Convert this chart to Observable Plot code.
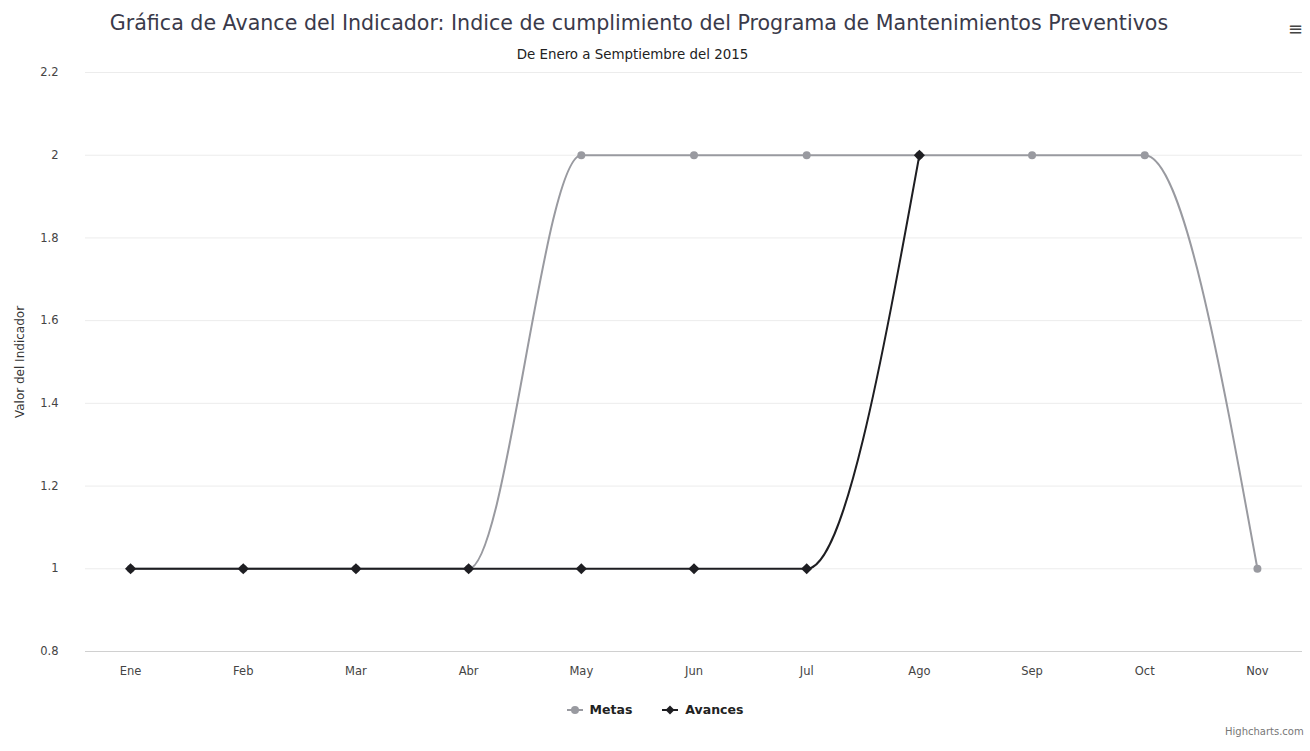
<!DOCTYPE html>
<html><head><meta charset="utf-8">
<script src="https://cdn.jsdelivr.net/npm/d3@7"></script>
<script src="https://cdn.jsdelivr.net/npm/@observablehq/plot@0.6"></script>
<style>
body{margin:0;background:#fff;font-family:"DejaVu Sans",sans-serif;width:1310px;height:751px;position:relative;overflow:hidden}
#title{position:absolute;top:11px;left:0;width:1278px;text-align:center;font-size:20.6px;color:#3a3a4a;white-space:nowrap}
#sub{position:absolute;top:47px;left:0;width:1265px;text-align:center;font-size:13.4px;color:#222}
#menu{position:absolute;top:18px;left:1288px;font-size:18px;color:#444}
#chart{position:absolute;top:65px;left:0}
#legend{position:absolute;top:702px;left:0;width:1310px;text-align:center;font-size:12.5px;font-weight:bold;color:#222}
#legend span{display:inline-flex;align-items:center;margin:0 15px}
#legend svg{margin-right:7px}
#credit{position:absolute;top:726px;left:1225px;font-size:10px;color:#777}
</style></head><body>
<div id="title">Gráfica de Avance del Indicador: Indice de cumplimiento del Programa de Mantenimientos Preventivos</div>
<div id="sub">De Enero a Semptiembre del 2015</div>
<div id="menu">≡</div>
<div id="chart"></div>
<div id="legend"></div>
<div id="credit">Highcharts.com</div>
<script>
const months = ["Ene","Feb","Mar","Abr","May","Jun","Jul","Ago","Sep","Oct","Nov"];
const metas = [1,1,1,1,2,2,2,2,2,2,1];
const avances = [1,1,1,1,1,1,1,2];
const yTicks = [0.8,1,1.2,1.4,1.6,1.8,2,2.2];
const seriesNames = ["Metas","Avances"];
const seriesColors = ["#999aa0","#1e1e22"];

const metasData = metas.map((v,i)=>({m:months[i],v}));
const avancesData = avances.map((v,i)=>({m:months[i],v}));

const plot = Plot.plot({
  width:1310, height:616,
  marginLeft:85, marginRight:8, marginTop:7, marginBottom:30,
  style:{fontFamily:"DejaVu Sans, sans-serif", fontSize:"11.5px", color:"#444"},
  x:{type:"point", domain:months, padding:0.4, round:false, label:null, tickSize:0, tickPadding:15},
  y:{domain:[0.8,2.2], ticks:yTicks, tickFormat:d=>d3.format("~g")(d), label:"Valor del Indicador",
     labelAnchor:"center", labelArrow:"none", labelOffset:70, tickSize:0, tickPadding:27},
  marks:[
    Plot.gridY(yTicks,{stroke:"#ececec", strokeOpacity:1}),
    Plot.ruleY([0.8],{stroke:"#d0d0d0"}),
    Plot.line(metasData,{x:"m",y:"v",stroke:seriesColors[0],strokeWidth:2,curve:"monotone-x"}),
    Plot.dot(metasData,{x:"m",y:"v",fill:seriesColors[0],r:4,symbol:"circle"}),
    Plot.line(avancesData,{x:"m",y:"v",stroke:seriesColors[1],strokeWidth:2,curve:"monotone-x"}),
    Plot.dot(avancesData,{x:"m",y:"v",fill:seriesColors[1],r:5,symbol:"diamond2"})
  ]
});
document.getElementById("chart").appendChild(plot);
plot.querySelectorAll("g[aria-label='y-axis label']").forEach(e=>{e.setAttribute("font-size","12");e.setAttribute("fill","#333")});

const leg = document.getElementById("legend");
seriesNames.forEach((n,i)=>{
  const sp = document.createElement("span");
  const sym = i===0
    ? `<circle cx="8" cy="6" r="4" fill="${seriesColors[i]}"/>`
    : `<path d="M8 1.5 L12.5 6 L8 10.5 L3.5 6 Z" fill="${seriesColors[i]}"/>`;
  sp.innerHTML = `<svg width="16" height="12"><line x1="0" y1="6" x2="16" y2="6" stroke="${seriesColors[i]}" stroke-width="2"/>${sym}</svg>${n}`;
  leg.appendChild(sp);
});
</script>
</body></html>
